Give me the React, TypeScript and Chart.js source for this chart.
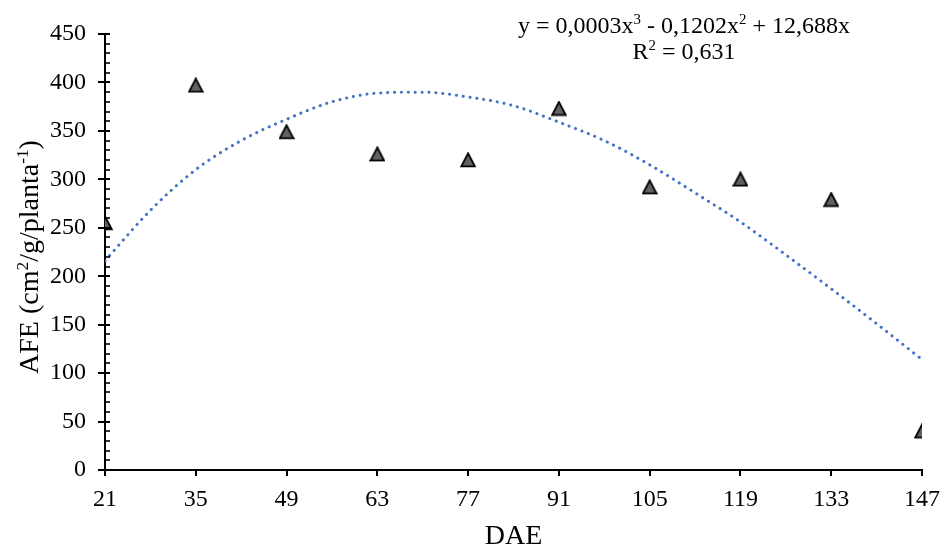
import { useEffect, useRef } from "react";
import { Chart, registerables } from "chart.js";

Chart.register(...registerables);

// ---- data ----
const days = [21, 35, 49, 63, 77, 91, 105, 119, 133, 147];
const afe = [255, 397, 349, 326, 320, 373, 292, 300, 279, 40];
const trendDays = [21, 28, 35, 42, 49, 56, 63, 70, 77, 84, 91, 98, 105, 112, 119, 126, 133, 140, 147];
const trendAfe = [216, 268, 310, 340, 362, 380, 389, 390, 385, 376, 359, 340, 315, 286, 256, 222, 187, 151, 114];
const yTickValues = [0, 50, 100, 150, 200, 250, 300, 350, 400, 450];
const yMinorStep = 10;

const xTitle = "DAE";
const yTitleParts: [string, boolean][] = [
  ["AFE (cm", false],
  ["2", true],
  ["/g/planta", false],
  ["-1", true],
  [")", false],
];
const equationLine1: [string, boolean][] = [
  ["y = 0,0003x", false],
  ["3", true],
  [" - 0,1202x", false],
  ["2", true],
  [" + 12,688x", false],
];
const equationLine2: [string, boolean][] = [
  ["R", false],
  ["2", true],
  [" = 0,631", false],
];

const FAMILY = "'Liberation Serif', 'Times New Roman', 'DejaVu Serif', serif";

function drawRich(
  ctx: CanvasRenderingContext2D,
  parts: [string, boolean][],
  cx: number,
  baseline: number,
  size: number
) {
  const supSize = size * 0.62;
  let total = 0;
  const widths = parts.map(([t, sup]) => {
    ctx.font = `${sup ? supSize : size}px ${FAMILY}`;
    const w = ctx.measureText(t).width;
    total += w;
    return w;
  });
  let x = cx - total / 2;
  ctx.textAlign = "left";
  ctx.textBaseline = "alphabetic";
  parts.forEach(([t, sup], i) => {
    ctx.font = `${sup ? supSize : size}px ${FAMILY}`;
    ctx.fillText(t, x, sup ? baseline - size * 0.36 : baseline);
    x += widths[i];
  });
}

function makeTriangle(): HTMLCanvasElement {
  const s = 16;
  const c = document.createElement("canvas");
  c.width = s;
  c.height = s;
  const g = c.getContext("2d")!;
  g.beginPath();
  g.moveTo(s / 2, 1.4);
  g.lineTo(s - 1.2, s - 1.6);
  g.lineTo(1.2, s - 1.6);
  g.closePath();
  g.fillStyle = "#626262";
  g.fill();
  g.lineWidth = 1.9;
  g.strokeStyle = "#000";
  g.stroke();
  return c;
}

const decorPlugin = {
  id: "decor",
  afterDraw(chart: any) {
    const { ctx, chartArea } = chart;
    const ys = chart.scales.y;
    ctx.save();
    ctx.strokeStyle = "#000";
    const yMin = yTickValues[0];
    const yMax = yTickValues[yTickValues.length - 1];
    for (let v = yMin; v <= yMax; v += yMinorStep) {
      const py = Math.round(ys.getPixelForValue(v));
      ctx.lineWidth = v % 50 === 0 ? 2 : 1.6;
      ctx.beginPath();
      ctx.moveTo(chartArea.left, py);
      ctx.lineTo(chartArea.left + 5, py);
      ctx.stroke();
    }
    ctx.fillStyle = "#000";
    drawRich(ctx, equationLine1, 684, 33, 24);
    drawRich(ctx, equationLine2, 684, 59, 24);
    ctx.translate(38, (chartArea.top + chartArea.bottom) / 2 + 5);
    ctx.rotate(-Math.PI / 2);
    drawRich(ctx, yTitleParts, 0, 0, 28);
    ctx.restore();
  },
};

export default function App() {
  const ref = useRef<HTMLCanvasElement | null>(null);

  useEffect(() => {
    if (!ref.current) return;
    const tri = makeTriangle();
    const chart = new Chart(ref.current, {
      type: "scatter",
      data: {
        datasets: [
          {
            label: "AFE",
            data: days.map((d, i) => ({ x: d, y: afe[i] })),
            pointStyle: tri as any,
            pointRadius: 8,
            showLine: false,
          },
          {
            label: "Trend",
            data: trendDays.map((d, i) => ({ x: d, y: trendAfe[i] })),
            showLine: true,
            pointRadius: 0,
            borderColor: "#4472C4",
            borderWidth: 3,
            borderCapStyle: "round",
            borderDash: [0.1, 6.8],
            cubicInterpolationMode: "monotone",
            fill: false,
          } as any,
        ],
      },
      options: {
        animation: false,
        responsive: false,
        layout: { padding: { top: 34, right: 22, left: 0, bottom: 0 } },
        plugins: {
          legend: { display: false },
          tooltip: { enabled: false },
        },
        scales: {
          x: {
            type: "linear",
            min: days[0],
            max: days[days.length - 1],
            afterBuildTicks: (scale: any) => {
              scale.ticks = days.map((v) => ({ value: v }));
            },
            afterFit: (scale: any) => {
              scale.height = 80;
              scale.paddingLeft = 0;
              scale.paddingRight = 0;
            },
            grid: {
              drawOnChartArea: false,
              drawTicks: true,
              tickLength: 6,
              color: "#000",
              lineWidth: 2,
            },
            border: { display: true, color: "#000", width: 2 },
            ticks: {
              color: "#000",
              font: { family: FAMILY, size: 24 },
              padding: 9,
              maxRotation: 0,
              autoSkip: false,
            },
            title: {
              display: true,
              text: xTitle,
              color: "#000",
              font: { family: FAMILY, size: 28 },
              padding: { top: 0, bottom: -3 },
            },
          },
          y: {
            type: "linear",
            min: yTickValues[0],
            max: yTickValues[yTickValues.length - 1],
            afterBuildTicks: (scale: any) => {
              scale.ticks = yTickValues.map((v) => ({ value: v }));
            },
            afterFit: (scale: any) => {
              scale.width = 105;
              scale.paddingTop = 0;
              scale.paddingBottom = 0;
            },
            grid: {
              drawOnChartArea: false,
              drawTicks: true,
              tickLength: 7,
              color: "#000",
              lineWidth: 2,
            },
            border: { display: true, color: "#000", width: 2 },
            ticks: {
              color: "#000",
              font: { family: FAMILY, size: 24 },
              padding: 12,
            },
          },
        },
      },
      plugins: [decorPlugin],
    } as any);
    return () => chart.destroy();
  }, []);

  return (
    <div style={{ position: "absolute", left: 0, top: 0, width: 944, height: 550, background: "#fff" }}>
      <canvas ref={ref} width={944} height={550} style={{ display: "block" }} />
    </div>
  );
}
